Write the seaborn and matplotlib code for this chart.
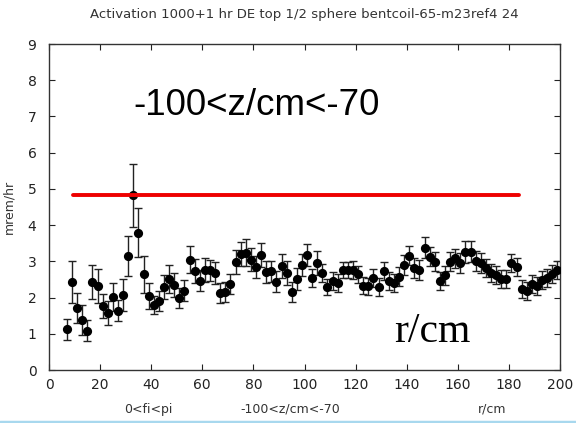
import matplotlib
matplotlib.use("Agg")
import matplotlib.pyplot as plt
from matplotlib.lines import Line2D
import seaborn as sns
import pandas as pd

title = "Activation 1000+1 hr DE top 1/2 sphere bentcoil-65-m23ref4 24"
ylabel = "mrem/hr"
xlabel_parts = ["0<fi<pi", "-100<z/cm<-70", "r/cm"]
big_text = "-100<z/cm<-70"
big_unit = "r/cm"

r_cm = [7, 9, 11, 13, 15, 17, 19, 21, 23, 25, 27, 29, 31, 33, 35, 37, 39, 41, 43, 45,
        47, 49, 51, 53, 55, 57, 59, 61, 63, 65, 67, 69, 71, 73, 75, 77, 79, 81, 83, 85,
        87, 89, 91, 93, 95, 97, 99, 101, 103, 105, 107, 109, 111, 113, 115, 117, 119, 121, 123, 125,
        127, 129, 131, 133, 135, 137, 139, 141, 143, 145, 147, 149, 151, 153, 155, 157, 159, 161, 163, 165,
        167, 169, 171, 173, 175, 177, 179, 181, 183, 185, 187, 189, 191, 193, 195, 197, 199]

dose = [1.12, 2.44, 1.71, 1.38, 1.09, 2.44, 2.33, 1.77, 1.58, 2.02, 1.64, 2.08, 3.15, 4.82, 3.79, 2.64, 2.05, 1.79, 1.90, 2.28,
        2.51, 2.35, 1.99, 2.19, 3.05, 2.74, 2.47, 2.76, 2.75, 2.67, 2.12, 2.15, 2.38, 2.99, 3.20, 3.24, 3.05, 2.85, 3.18, 2.70,
        2.72, 2.44, 2.86, 2.67, 2.15, 2.51, 2.90, 3.18, 2.55, 2.95, 2.67, 2.28, 2.46, 2.40, 2.76, 2.76, 2.75, 2.64, 2.33, 2.31,
        2.55, 2.28, 2.74, 2.46, 2.40, 2.58, 2.90, 3.16, 2.81, 2.76, 3.38, 3.13, 2.99, 2.46, 2.61, 2.99, 3.08, 2.96, 3.25, 3.27,
        3.01, 2.95, 2.81, 2.67, 2.63, 2.51, 2.51, 2.96, 2.84, 2.24, 2.17, 2.37, 2.31, 2.49, 2.55, 2.64, 2.75]

dose_err = [0.30, 0.58, 0.41, 0.41, 0.30, 0.47, 0.47, 0.34, 0.33, 0.38, 0.30, 0.44, 0.55, 0.88, 0.68, 0.52, 0.36, 0.25, 0.27, 0.33,
            0.38, 0.33, 0.27, 0.29, 0.36, 0.33, 0.29, 0.33, 0.30, 0.30, 0.27, 0.27, 0.27, 0.33, 0.34, 0.38, 0.33, 0.30, 0.33, 0.30,
            0.30, 0.29, 0.33, 0.33, 0.27, 0.30, 0.30, 0.30, 0.25, 0.33, 0.25, 0.22, 0.25, 0.25, 0.23, 0.23, 0.25, 0.23, 0.23, 0.23,
            0.25, 0.25, 0.25, 0.25, 0.25, 0.25, 0.27, 0.27, 0.27, 0.27, 0.30, 0.27, 0.27, 0.25, 0.25, 0.27, 0.27, 0.27, 0.30, 0.30,
            0.27, 0.27, 0.25, 0.25, 0.25, 0.25, 0.25, 0.25, 0.25, 0.25, 0.25, 0.25, 0.25, 0.25, 0.25, 0.25, 0.25]

ref_x = [9.5, 184]
ref_y = [4.82, 4.82]

x_ticks = [0, 20, 40, 60, 80, 100, 120, 140, 160, 180, 200]
y_ticks = [0, 1, 2, 3, 4, 5, 6, 7, 8, 9]

df = pd.DataFrame({"r": r_cm, "dose": dose, "err": dose_err})

sns.set_style("ticks")
plt.rcParams["font.family"] = ["DejaVu Sans"]

fig = plt.figure(figsize=(5.76, 4.23), dpi=100)
ax = fig.add_axes([49 / 576, 1 - 370 / 423, (560 - 49) / 576, (370 - 44) / 423])

ax.errorbar(df["r"], df["dose"], yerr=df["err"], fmt="none", ecolor="#222222",
            elinewidth=1.0, capsize=2.6, capthick=1.0, zorder=2)
sns.scatterplot(data=df, x="r", y="dose", ax=ax, color="black", s=44,
                edgecolor="black", linewidth=0, zorder=3)
sns.lineplot(x=ref_x, y=ref_y, ax=ax, color="#ee0000", linewidth=2.8, zorder=4)

ax.set_xlim(0, 200)
ax.set_ylim(0, 9)
ax.set_xticks(x_ticks)
ax.set_yticks(y_ticks)
ax.tick_params(direction="in", length=4.5, width=0.8, top=True, right=True,
               labelsize=10, colors="#222222")
ax.tick_params(axis="y", pad=9)
ax.tick_params(axis="x", pad=6)
for sp in ax.spines.values():
    sp.set_visible(True)
    sp.set_linewidth(1.0)
    sp.set_color("#333333")

ax.set_xlabel("")
ax.set_ylabel(ylabel, fontsize=9, color="#333333", labelpad=9)
ax.set_title(title, fontsize=9.5, color="#333333", pad=19)

label_x = [148, 290, 492]
for lx, txt in zip(label_x, xlabel_parts):
    fig.text(lx / 576, 1 - 409 / 423, txt, ha="center", va="center",
             fontsize=9, color="#333333")

ax.text(33, 7.3, big_text, fontsize=26.5, family=["Liberation Sans", "DejaVu Sans"],
        ha="left", va="center", color="black")
ax.text(135, 1.05, big_unit, fontsize=30, family=["Liberation Serif", "DejaVu Serif"],
        ha="left", va="center", color="black")

fig.add_artist(Line2D([0, 1], [1.5 / 423, 1.5 / 423], transform=fig.transFigure,
                      color="#a8d8ee", linewidth=2.5))

fig.savefig("out.png", dpi=100)
